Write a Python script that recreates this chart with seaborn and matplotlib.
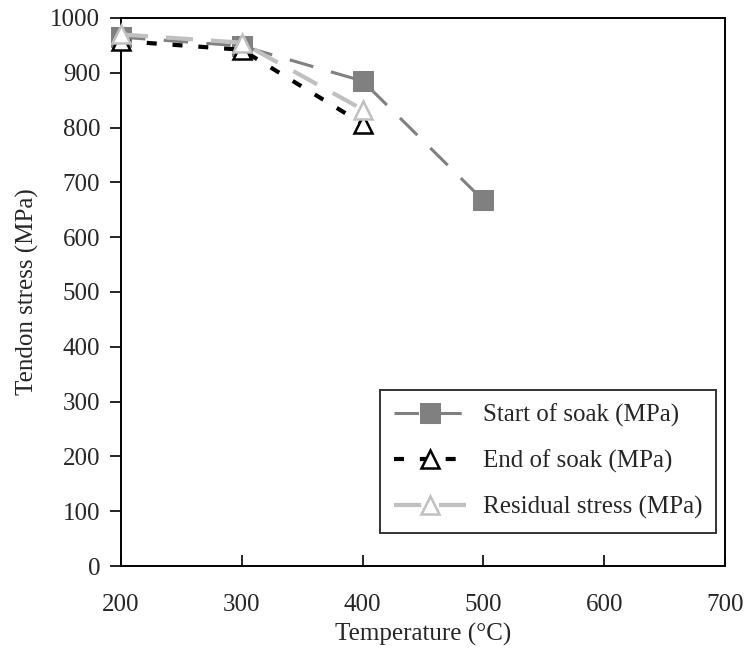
import matplotlib
matplotlib.use("Agg")
import matplotlib.pyplot as plt
import seaborn as sns

temp_start = [200, 300, 400, 500]
start_soak = [965, 949, 885, 667]
temp_end = [200, 300, 400]
end_soak = [958, 942, 807]
temp_res = [200, 300, 400]
residual = [970, 955, 833]

x_ticks = [200, 300, 400, 500, 600, 700]
y_ticks = [0, 100, 200, 300, 400, 500, 600, 700, 800, 900, 1000]

sns.set_style("white")
plt.rcParams['font.family'] = ['Liberation Serif', 'DejaVu Serif']

fig = plt.figure(figsize=(7.46, 6.52), dpi=100)
ax = fig.add_axes([0.1622, 0.1319, 0.8097, 0.8405])

sns.lineplot(x=temp_start, y=start_soak, ax=ax, color="#808080", linewidth=2.2,
             linestyle=(0, (8, 6)), marker="s", markersize=14,
             markerfacecolor="#808080", markeredgecolor="#808080",
             label="Start of soak (MPa)", clip_on=False, zorder=3)
sns.lineplot(x=temp_end, y=end_soak, ax=ax, color="black", linewidth=3,
             linestyle=(0, (2.4, 3.8)), marker="^", markersize=13,
             markerfacecolor="white", markeredgecolor="black", markeredgewidth=1.8,
             label="End of soak (MPa)", clip_on=False, zorder=4)
sns.lineplot(x=temp_res, y=residual, ax=ax, color="#c0c0c0", linewidth=3,
             linestyle=(0, (6.5, 4.3)), marker="^", markersize=13,
             markerfacecolor="white", markeredgecolor="#c0c0c0", markeredgewidth=1.8,
             label="Residual stress (MPa)", clip_on=False, zorder=5)

ax.set_xlim(200, 700)
ax.set_ylim(0, 1000)
ax.set_xticks(x_ticks)
ax.set_yticks(y_ticks)
for s in ax.spines.values():
    s.set_color("black")
    s.set_linewidth(1.4)
ax.tick_params(axis="x", direction="in", length=8, width=1.2, labelsize=18, pad=20,
               color="black", bottom=True)
ax.tick_params(axis="y", direction="out", length=8, width=1.2, labelsize=18, pad=7,
               color="black", left=True)
ax.set_xlabel("Temperature (°C)", fontsize=18, labelpad=5)
ax.set_ylabel("Tendon stress (MPa)", fontsize=18, labelpad=8)

leg = ax.legend(loc="lower right", bbox_to_anchor=(0.985, 0.060), borderaxespad=0,
                fontsize=18, frameon=True, fancybox=False, edgecolor="black",
                handlelength=2.9, borderpad=0.55, labelspacing=0.92, handletextpad=0.65)
leg.get_frame().set_linewidth(1.4)

fig.savefig("out.png", dpi=100)
